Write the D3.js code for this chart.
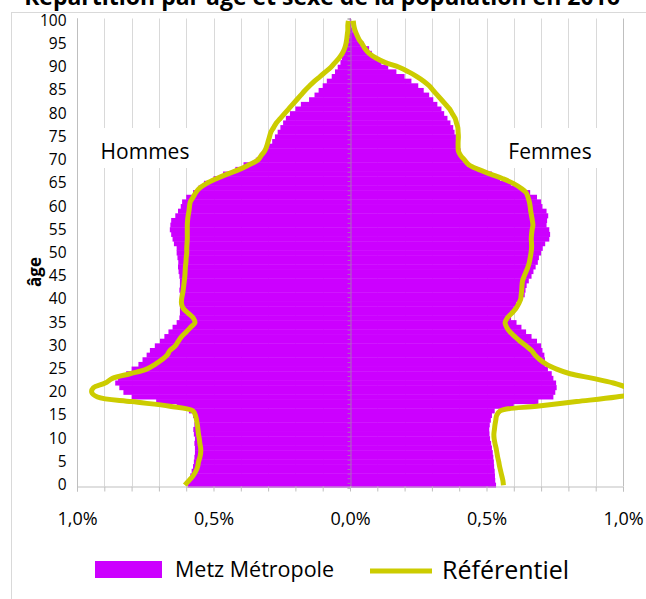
<!DOCTYPE html>
<html>
<head>
<meta charset="utf-8">
<script src="https://cdn.jsdelivr.net/npm/d3@7"></script>
<style>
  body { margin: 0; background: #fff; }
  svg { display: block; }
  text { font-family: "Open Sans", sans-serif; fill: #000; }
</style>
</head>
<body>
<svg width="646" height="599"></svg>
<script>
  // ages 0..100 (one bar per age)
  const ages = d3.range(0, 101);

  // Metz Métropole, % of population per age
  const hommes = [
    0.595, 0.59, 0.585, 0.58, 0.575, 0.572, 0.57, 0.568, 0.568, 0.57,
    0.568, 0.572, 0.574, 0.57, 0.568, 0.575, 0.59, 0.635, 0.71, 0.80,
    0.83, 0.845, 0.86, 0.85, 0.82, 0.80, 0.775, 0.76, 0.745, 0.733,
    0.715, 0.696, 0.68, 0.665, 0.65, 0.635, 0.625, 0.623, 0.623, 0.623,
    0.62, 0.623, 0.625, 0.623, 0.623, 0.625, 0.628, 0.63, 0.629, 0.632,
    0.635, 0.635, 0.645, 0.65, 0.655, 0.66, 0.658, 0.655, 0.64, 0.63,
    0.62, 0.615, 0.60, 0.575, 0.555, 0.535, 0.50, 0.465, 0.42, 0.39,
    0.345, 0.33, 0.315, 0.30, 0.285, 0.275, 0.265, 0.255, 0.245, 0.235,
    0.22, 0.20, 0.18, 0.15, 0.13, 0.115, 0.10, 0.085, 0.067, 0.055,
    0.045, 0.035, 0.03, 0.022, 0.015, 0.012, 0.008, 0.005, 0.003, 0.002, 0.001
  ];
  const femmes = [
    0.535, 0.532, 0.531, 0.53, 0.528, 0.527, 0.525, 0.523, 0.52, 0.517,
    0.513, 0.511, 0.51, 0.512, 0.516, 0.52, 0.53, 0.60, 0.69, 0.745,
    0.752, 0.757, 0.755, 0.745, 0.739, 0.725, 0.714, 0.714, 0.712, 0.705,
    0.70, 0.685, 0.665, 0.645, 0.628, 0.61, 0.59, 0.588, 0.60, 0.61,
    0.625, 0.64, 0.643, 0.647, 0.655, 0.665, 0.672, 0.68, 0.688, 0.692,
    0.70, 0.706, 0.715, 0.73, 0.733, 0.73, 0.72, 0.722, 0.726, 0.72,
    0.705, 0.70, 0.685, 0.66, 0.625, 0.59, 0.55, 0.52, 0.47, 0.43,
    0.415, 0.41, 0.405, 0.40, 0.393, 0.388, 0.383, 0.378, 0.368, 0.357,
    0.345, 0.335, 0.32, 0.305, 0.29, 0.27, 0.25, 0.225, 0.20, 0.17,
    0.14, 0.115, 0.095, 0.08, 0.07, 0.05, 0.03, 0.02, 0.01, 0.005, 0.003
  ];

  // Référentiel
  const refHommes = [
    0.605, 0.59, 0.575, 0.565, 0.558, 0.555, 0.55, 0.547, 0.547, 0.55,
    0.552, 0.555, 0.557, 0.559, 0.562, 0.566, 0.575, 0.66, 0.80, 0.925,
    0.946, 0.94, 0.897, 0.87, 0.806, 0.745, 0.714, 0.69, 0.67, 0.66,
    0.64, 0.629, 0.617, 0.60, 0.584, 0.568, 0.574, 0.592, 0.61, 0.617,
    0.617, 0.614, 0.611, 0.609, 0.607, 0.605, 0.604, 0.603, 0.601, 0.60,
    0.598, 0.598, 0.597, 0.596, 0.596, 0.596, 0.596, 0.595, 0.593, 0.59,
    0.588, 0.585, 0.575, 0.565, 0.55, 0.525, 0.49, 0.45, 0.405, 0.37,
    0.338, 0.325, 0.312, 0.305, 0.30, 0.295, 0.29, 0.28, 0.27, 0.255,
    0.24, 0.225, 0.21, 0.195, 0.18, 0.165, 0.148, 0.13, 0.11, 0.09,
    0.07, 0.055, 0.04, 0.028, 0.02, 0.015, 0.012, 0.01, 0.008, 0.008, 0.006
  ];
  const refFemmes = [
    0.562, 0.56, 0.556, 0.552, 0.548, 0.545, 0.541, 0.538, 0.535, 0.531,
    0.528, 0.527, 0.529, 0.531, 0.534, 0.537, 0.55, 0.684, 0.83, 0.975,
    1.08, 1.02, 0.965, 0.89, 0.806, 0.757, 0.72, 0.696, 0.678, 0.665,
    0.645, 0.623, 0.604, 0.586, 0.574, 0.568, 0.576, 0.592, 0.607, 0.617,
    0.625, 0.627, 0.629, 0.63, 0.632, 0.638, 0.645, 0.652, 0.657, 0.66,
    0.663, 0.665, 0.665, 0.664, 0.665, 0.667, 0.67, 0.668, 0.665, 0.662,
    0.66, 0.657, 0.652, 0.645, 0.625, 0.598, 0.56, 0.515, 0.47, 0.435,
    0.42, 0.405, 0.397, 0.396, 0.396, 0.397, 0.396, 0.395, 0.39, 0.385,
    0.375, 0.365, 0.35, 0.335, 0.32, 0.305, 0.29, 0.27, 0.245, 0.215,
    0.18, 0.13, 0.095, 0.07, 0.055, 0.045, 0.033, 0.025, 0.018, 0.014, 0.012
  ];

  const xTickValues = d3.range(-10, 11).map(d => d / 10);
  const ageLabels = ages.filter(a => a % 5 === 0);

  const purple = '#cc00ff';
  const yellow = '#cccc00';
  const gridColor = '#d9d9d9';

  const svg = d3.select('svg');

  // chart border
  svg.append('rect')
    .attr('x', 11.5).attr('y', 12.5)
    .attr('width', 660).attr('height', 620)
    .attr('fill', 'none').attr('stroke', '#d9d9d9');

  // title (cut at the top, as in the export)
  svg.append('text')
    .attr('x', 322).attr('y', 5)
    .attr('text-anchor', 'middle')
    .style('font-weight', 'bold').style('font-size', '23px')
    .text('Répartition par âge et sexe de la population en 2016');

  const plot = { left: 77, right: 623, top: 18.5, bottom: 487.5 };

  const x = d3.scaleLinear().domain([-1, 1]).range([plot.left, plot.right]);
  const y = d3.scaleBand().domain(ages).range([plot.bottom, plot.top]).padding(0);
  const bw = y.bandwidth();

  // vertical gridlines
  svg.append('g')
    .selectAll('line')
    .data(xTickValues.filter(d => d !== 0))
    .enter().append('line')
    .attr('x1', d => Math.round(x(d)) + 0.5)
    .attr('x2', d => Math.round(x(d)) + 0.5)
    .attr('y1', plot.top)
    .attr('y2', 486)
    .attr('stroke', d => (Math.abs(d) === 1 ? '#bfbfbf' : gridColor))
    .attr('stroke-width', 1);

  // white boxes behind Hommes / Femmes labels
  svg.append('rect').attr('x', 95).attr('y', 128).attr('width', 106).attr('height', 40).attr('fill', '#fff');
  svg.append('rect').attr('x', 500).attr('y', 128).attr('width', 108).attr('height', 40).attr('fill', '#fff');

  svg.append('text')
    .attr('x', 145).attr('y', 159)
    .attr('text-anchor', 'middle')
    .style('font-size', '21px')
    .attr('fill', '#262626')
    .text('Hommes');
  svg.append('text')
    .attr('x', 550).attr('y', 159)
    .attr('text-anchor', 'middle')
    .style('font-size', '21px')
    .attr('fill', '#262626')
    .text('Femmes');

  // bars
  const barsG = svg.append('g');
  barsG.selectAll('.h')
    .data(ages)
    .enter().append('rect')
    .attr('class', 'h')
    .attr('x', a => x(-hommes[a]))
    .attr('width', a => x(0) - x(-hommes[a]))
    .attr('y', a => y(a) - 0.2)
    .attr('height', bw + 0.4)
    .attr('fill', purple);
  barsG.selectAll('.f')
    .data(ages)
    .enter().append('rect')
    .attr('class', 'f')
    .attr('x', x(0))
    .attr('width', a => x(femmes[a]) - x(0))
    .attr('y', a => y(a) - 0.2)
    .attr('height', bw + 0.4)
    .attr('fill', purple);

  // center category axis with small ticks
  const yEdge = d3.scaleLinear().domain([-0.5, 100.5]).range([plot.bottom, plot.top]);
  const centerAxis = svg.append('g')
    .attr('transform', `translate(${x(0) + 0.5},0)`)
    .call(d3.axisLeft(yEdge)
      .tickValues(d3.range(-0.5, 101, 1))
      .tickSize(3)
      .tickFormat(''));
  centerAxis.selectAll('line, path')
    .attr('stroke', '#9a9a9a')
    .attr('stroke-opacity', 0.7);

  // left value line + age labels
  const yAxisG = svg.append('g')
    .attr('transform', `translate(${plot.left + 0.5},0)`)
    .call(d3.axisLeft(y).tickValues(ageLabels).tickSize(0).tickPadding(11));
  yAxisG.select('.domain').remove();
  yAxisG.selectAll('text')
    .style('font-size', '15.5px')
    .style('font-family', '"Open Sans", sans-serif')
    .attr('fill', '#262626');
  svg.append('line')
    .attr('x1', plot.left + 0.5).attr('x2', plot.left + 0.5)
    .attr('y1', plot.top).attr('y2', 487)
    .attr('stroke', '#bfbfbf');

  // reference lines, clipped to the plot area
  svg.append('clipPath').attr('id', 'plotClip')
    .append('rect')
    .attr('x', plot.left).attr('y', 0)
    .attr('width', plot.right - plot.left + 1).attr('height', plot.bottom + 5);

  const refLine = d3.line()
    .x(d => x(d.v))
    .y(d => y(d.age) + bw / 2)
    .curve(d3.curveCatmullRom.alpha(0.5));

  const linesG = svg.append('g').attr('clip-path', 'url(#plotClip)');
  [
    ages.map(a => ({ age: a, v: -refHommes[a] })),
    ages.map(a => ({ age: a, v: refFemmes[a] }))
  ].forEach(pts => {
    linesG.append('path')
      .datum(pts)
      .attr('d', refLine)
      .attr('fill', 'none')
      .attr('stroke', yellow)
      .attr('stroke-width', 5)
      .attr('stroke-linejoin', 'round');
  });

  // bottom axis
  const fmt = d => Math.abs(d).toFixed(1).replace('.', ',') + '%';
  const xAxisG = svg.append('g')
    .attr('transform', 'translate(0,486.5)')
    .call(d3.axisBottom(x)
      .tickValues(xTickValues)
      .tickSize(5)
      .tickPadding(21)
      .tickFormat(d => (Math.round(d * 10) % 5 === 0 ? fmt(d) : '')));
  xAxisG.selectAll('line, path').attr('stroke', '#bfbfbf');
  xAxisG.selectAll('text')
    .style('font-size', '18px')
    .style('font-family', '"Open Sans", sans-serif')
    .attr('fill', '#262626');

  // axis title
  svg.append('text')
    .attr('transform', 'translate(41,272) rotate(-90)')
    .attr('text-anchor', 'middle')
    .style('font-weight', 'bold')
    .style('font-size', '17px')
    .text('âge');

  // legend
  const legend = svg.append('g');
  legend.append('rect')
    .attr('x', 95).attr('y', 561)
    .attr('width', 67).attr('height', 17)
    .attr('fill', purple);
  legend.append('text')
    .attr('x', 175).attr('y', 577)
    .style('font-size', '21.5px')
    .text('Metz Métropole');
  legend.append('line')
    .attr('x1', 370).attr('x2', 432)
    .attr('y1', 571).attr('y2', 571)
    .attr('stroke', yellow).attr('stroke-width', 5);
  legend.append('text')
    .attr('x', 442).attr('y', 579)
    .style('font-size', '25px')
    .text('Référentiel');
</script>
</body>
</html>
